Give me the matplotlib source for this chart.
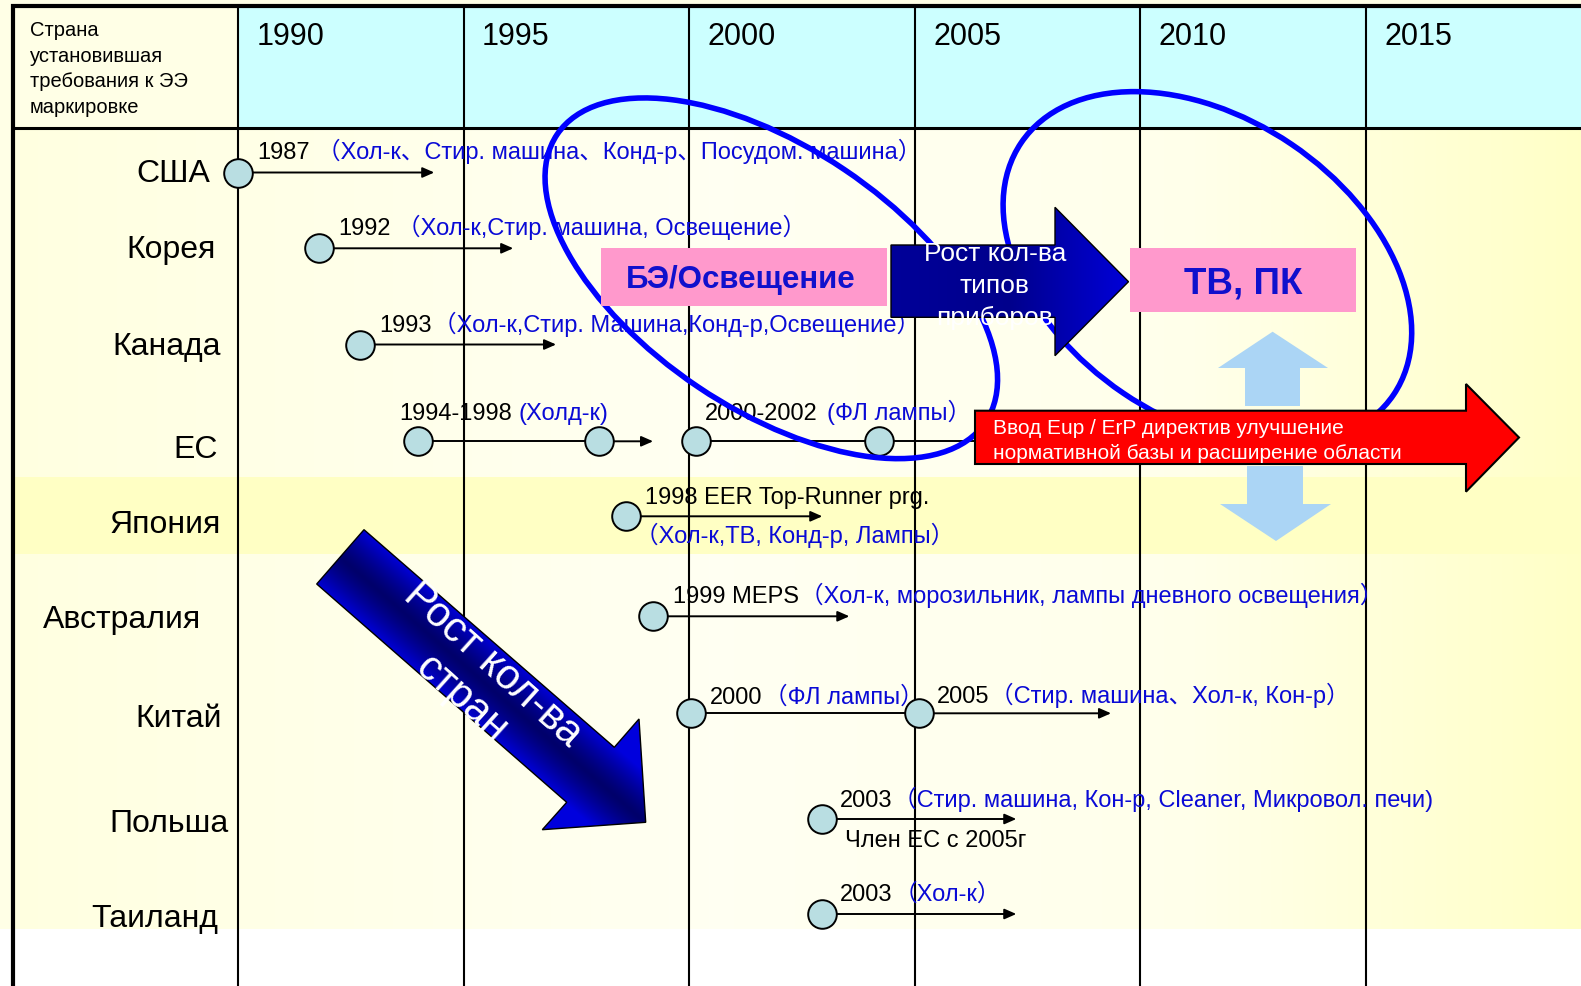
import numpy as np
import matplotlib
matplotlib.use('Agg')
import matplotlib.pyplot as plt
from matplotlib.patches import Polygon, Ellipse, Rectangle

plt.rcParams['font.family'] = ['Liberation Sans', 'Noto Sans CJK KR', 'DejaVu Sans']

# ---------------- data ----------------
header_title = ['Страна', 'установившая', 'требования к ЭЭ', 'маркировке']
header_years = [1990, 1995, 2000, 2005, 2010, 2015]
countries = ['США', 'Корея', 'Канада', 'ЕС', 'Япония', 'Австралия', 'Китай', 'Польша', 'Таиланд']

# milestone dots: year position and row index
dot_years = [1990.0, 1991.8, 1992.7, 1994.0, 1998.0, 2000.15, 2004.2,
             1998.6, 1999.2, 2000.05, 2005.1, 2002.95, 2002.95]
dot_rows = [0, 1, 2, 3, 3, 3, 3, 4, 5, 6, 6, 7, 8]

# arrows (with head)
arrow_from = [1990.0, 1991.8, 1992.7, 1998.0, 1998.6, 1999.2, 2005.1, 2002.95, 2002.95]
arrow_to = [1994.35, 1996.1, 1997.05, 1999.2, 2002.95, 2003.55, 2009.35, 2007.25, 2007.25]
arrow_rows = [0, 1, 2, 3, 4, 5, 6, 7, 8]

# plain connecting lines
link_from = [1994.0, 2000.15, 2000.05]
link_to = [1998.0, 2006.6, 2005.1]
link_rows = [3, 3, 6]

note_dates = ['1987', '1992', '1993', '1994-1998', '2000-2002', '1998 EER Top-Runner prg.',
              '1999 MEPS', '2000', '2005', '2003', 'Член ЕС с 2005г', '2003']
note_items = ['（Хол-к、Стир. машина、Конд-р、Посудом. машина）',
              '（Хол-к,Стир. машина, Освещение）',
              '（Хол-к,Стир. Машина,Конд-р,Освещение）',
              '(Холд-к)',
              '(ФЛ лампы）',
              '（Хол-к,ТВ, Конд-р, Лампы）',
              '（Хол-к, морозильник, лампы дневного освещения）',
              '（ФЛ лампы）',
              '（Стир. машина、Хол-к, Кон-р）',
              '（Стир. машина, Кон-р, Cleaner, Микровол. печи)',
              '（Хол-к）']
# which date text sits on the same line in front of each item
item_date = [0, 1, 2, 3, 4, None, 6, 7, 8, 9, 11]

box_labels = ['БЭ/Освещение', 'ТВ, ПК']
types_arrow_label = ['Рост кол-ва', 'типов', 'приборов']
countries_arrow_label = 'Рост кол-ва\nстран'
eup_label = ['Ввод Eup / ErP директив улучшение', 'нормативной базы и расширение области']

# ---------------- layout (pixels) ----------------
W, H = 1581, 987
row_y = [173.5, 249.3, 345.5, 442.3, 517.3, 617.3, 714.3, 820.0, 915.0]
country_x = [136, 126, 112, 173.4, 109.4, 43.3, 135.3, 109.4, 91.5]
country_base = [181.7, 258.3, 354.5, 457.5, 533.3, 628.3, 726.7, 831.7, 926.7]
date_x = [257, 338, 379.4, 399, 705, 645, 672.7, 710, 936.7, 839.8, 845.4, 839.8]
date_base = [159.3, 235, 331.7, 420, 420, 504, 603, 704, 702.7, 806.7, 847.3, 901]
item_x = [329.5, 409.8, 435, 520, 828, 648, 804.4, 768.4, 992.8, 894.9, 905]
item_base = [159.3, 235, 331.7, 420, 420, 543, 603, 704, 702.7, 806.7, 901]

BLUE_TXT = '#0A0AD6'
NOTE_FS = 17
em_px = NOTE_FS * 100 / 72.0

fig = plt.figure(figsize=(W / 100, H / 100), dpi=100)
fig.patch.set_facecolor('#FFFFE6')

# background axes (pixel coordinates)
bg = fig.add_axes([0, 0, 1, 1], zorder=0)
bg.set_xlim(0, W); bg.set_ylim(H, 0); bg.axis('off')
gx = np.linspace(0, 1, 500)
bch = np.interp(gx, [0, 0.45, 0.75, 1.0], [0.88, 0.95, 0.92, 0.78])
grad = np.ones((1, 500, 3)); grad[0, :, 2] = bch
bg.imshow(grad, extent=(13, W, 930, 130), aspect='auto', interpolation='bilinear', zorder=0)
bg.add_patch(Rectangle((0, 930), W, H - 930, fc='white', ec='none', zorder=1))
bg.add_patch(Rectangle((13, 478), W - 13, 77, fc='#FFFFC4', ec='none', zorder=1))
bg.add_patch(Rectangle((238, 9), W - 238, 120, fc='#CCFFFF', ec='none', zorder=1))
bg.add_patch(Rectangle((13, 9), 225, 120, fc='#FFFFE6', ec='none', zorder=1))
bg.set_xlim(0, W); bg.set_ylim(H, 0)

# data axes: x in years, y in pixel rows
ax = fig.add_axes([0, 0, 1, 1], zorder=1)
ax.patch.set_alpha(0)
x0_year = 1990 - 238 / 45.12
x1_year = 1990 + (W - 238) / 45.12
ax.set_xlim(x0_year, x1_year); ax.set_ylim(H, 0); ax.axis('off')

ax.vlines(header_years, 7, H, color='black', lw=1.5, zorder=1)
for yr in header_years:
    ax.annotate(str(yr), xy=(yr, 45), xytext=(13.3, 0), textcoords='offset points',
                ha='left', va='baseline', fontsize=22, color='black')

for a, b, r in zip(link_from, link_to, link_rows):
    ax.plot([a, b], [row_y[r], row_y[r]], color='black', lw=1.4, zorder=2, solid_capstyle='butt')
for a, b, r in zip(arrow_from, arrow_to, arrow_rows):
    ax.annotate('', xy=(b, row_y[r]), xytext=(a, row_y[r]),
                arrowprops=dict(arrowstyle='-|>,head_length=0.5,head_width=0.22',
                                mutation_scale=14, color='black', lw=1.4,
                                shrinkA=0, shrinkB=0), zorder=2)
ax.scatter(dot_years, [row_y[r] for r in dot_rows], s=424, c='#B9DEE2',
           edgecolors='black', linewidths=1.4, zorder=4)

# overlay axes (pixel coordinates)
ov = fig.add_axes([0, 0, 1, 1], zorder=2)
ov.patch.set_alpha(0)
ov.set_xlim(0, W); ov.set_ylim(H, 0); ov.axis('off')

# frame lines
ov.plot([11, W], [7, 7], color='black', lw=3, solid_capstyle='butt', zorder=1)
ov.plot([13, 13], [5, H], color='black', lw=3, solid_capstyle='butt', zorder=1)
ov.plot([13, W], [129, 129], color='black', lw=2.2, solid_capstyle='butt', zorder=1)

for i, line in enumerate(header_title):
    ov.text(30, 36 + 25.6 * i, line, fontsize=14.5, ha='left', va='baseline', zorder=2)

for name, x, yb in zip(countries, country_x, country_base):
    ov.text(x, yb, name, fontsize=23, ha='left', va='baseline', zorder=2)

date_texts = []
for t, x, yb in zip(note_dates, date_x, date_base):
    date_texts.append(ov.text(x, yb, t, fontsize=NOTE_FS, ha='left', va='baseline',
                              color='black', zorder=2))

renderer = fig.canvas.get_renderer()
inv = ov.transData.inverted()
for t, x, yb, di in zip(note_items, item_x, item_base, item_date):
    txt = ov.text(x, yb, t, fontsize=NOTE_FS, ha='left', va='baseline', color=BLUE_TXT, zorder=2)
    # measure blank lead of the opening bracket
    probe = ov.text(0, 0, t[0], fontsize=NOTE_FS)
    pw = probe.get_window_extent(renderer=renderer).width
    probe.remove()
    off = 0.55 * pw if t.startswith('（') else 0.05 * em_px
    left = x - off
    if di is not None:
        bb = date_texts[di].get_window_extent(renderer=renderer)
        right_px = inv.transform((bb.x1, bb.y0))[0]
        left = max(left, right_px + 1.0)
    txt.set_x(left)

# ellipses
ov.add_patch(Ellipse((771.3, 279.3), 516, 262, angle=33.9, fill=False, ec='#0000FF', lw=4, zorder=3))
ov.add_patch(Ellipse((1207.4, 269.7), 449.6, 300.4, angle=34.1, fill=False, ec='#0000FF', lw=4, zorder=3))

# pink boxes
ov.add_patch(Rectangle((601.4, 249.3), 286, 57.4, fc='#FF99CC', ec='none', zorder=4))
ov.add_patch(Rectangle((1129.8, 249.3), 226.5, 63.4, fc='#FF99CC', ec='none', zorder=4))
ov.text(741, 288.3, box_labels[0], fontsize=22.5, fontweight='bold', color='#1010CC',
        ha='center', va='baseline', zorder=5)
ov.text(1243, 293.3, box_labels[1], fontsize=26.5, fontweight='bold', color='#1010CC',
        ha='center', va='baseline', zorder=5)

# blue arrow (types of appliances)
bpts = [(891, 246), (1055, 246), (1055, 208.3), (1128.5, 282.7), (1055, 356.7), (1055, 318.3), (891, 318.3)]
bpoly = Polygon(bpts, closed=True, fill=False, ec='black', lw=1, zorder=5)
ov.add_patch(bpoly)
gx2 = np.linspace(0, 1, 300)
bb2 = np.interp(gx2, [0, 0.5, 1], [0.60, 0.55, 0.85])
g2 = np.zeros((1, 300, 3)); g2[0, :, 2] = bb2
im2 = ov.imshow(g2, extent=(891, 1128.5, 356.7, 208.3), aspect='auto', interpolation='bilinear', zorder=4.5)
im2.set_clip_path(bpoly)
for i, line in enumerate(types_arrow_label):
    t = ov.text(994.8, 260.7 + 32 * i, line, fontsize=19, color='white', ha='center', va='baseline', zorder=6)
    t.set_clip_path(bpoly)

# red arrow (EuP / ErP)
rpts = [(975, 411.7), (1466, 411.7), (1466, 385), (1519, 438.5), (1466, 492.7), (1466, 465), (975, 465)]
ov.add_patch(Polygon(rpts, closed=True, fc='#FF0000', ec='black', lw=1.5, zorder=4))
ov.text(992.6, 434.3, eup_label[0], fontsize=15, color='white', ha='left', va='baseline', zorder=5)
ov.text(992.6, 459.3, eup_label[1], fontsize=15, color='white', ha='left', va='baseline', zorder=5)

# light blue double arrow
lb = '#ABD5F5'
ov.add_patch(Polygon([(1272.6, 332.7), (1328, 369), (1300, 369), (1300, 407), (1245, 407), (1245, 369), (1218, 369)],
                     closed=True, fc=lb, ec='none', zorder=4))
ov.add_patch(Polygon([(1247, 467), (1303, 467), (1303, 505), (1331, 505), (1276, 542), (1220, 505), (1247, 505)],
                     closed=True, fc=lb, ec='none', zorder=4))

# diagonal arrow (countries)
dpts = [(364, 530.7), (614.3, 748.3), (639, 720), (645.7, 823.3), (542.3, 830.7), (566.7, 803.3), (316.7, 585)]
dpoly = Polygon(dpts, closed=True, fill=False, ec='black', lw=1, zorder=5)
ov.add_patch(dpoly)
xs = np.linspace(300, 660, 360)
ys = np.linspace(520, 840, 320)
XX, YY = np.meshgrid(xs, ys)
ang = np.deg2rad(41)
dist = np.abs((XX - 340) * (-np.sin(ang)) + (YY - 558) * np.cos(ang))
f = np.clip(dist / 38.0, 0, 1) ** 1.3
g3 = np.zeros(XX.shape + (3,)); g3[..., 2] = 0.42 + 0.45 * f
im3 = ov.imshow(g3, extent=(300, 660, 840, 520), aspect='auto', interpolation='bilinear', zorder=4.5)
im3.set_clip_path(dpoly)
ov.text(477, 681.6, countries_arrow_label, fontsize=30, color='white', rotation=-42,
        rotation_mode='anchor', ha='center', va='center', multialignment='center',
        linespacing=1.2, zorder=6)

ov.set_xlim(0, W); ov.set_ylim(H, 0)
fig.savefig('out.png', dpi=100, facecolor=fig.get_facecolor())
